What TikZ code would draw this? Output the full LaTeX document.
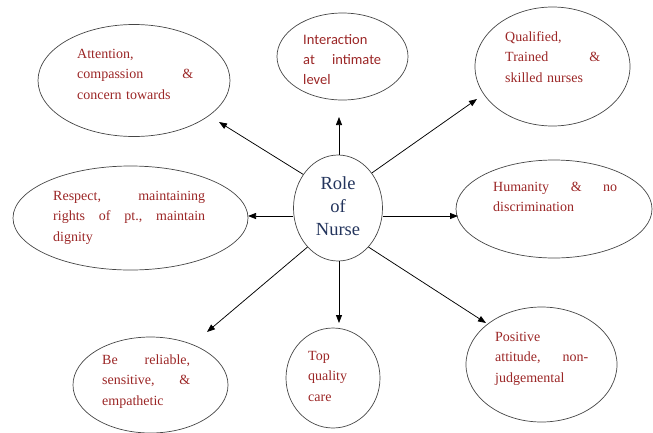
\documentclass[tikz,border=0pt]{standalone}
\usepackage{fontspec}
\setmainfont{Liberation Serif}
\newfontfamily\calfont{Carlito}
\usetikzlibrary{shapes.geometric,arrows.meta}
\definecolor{txtred}{RGB}{155,38,38}
\definecolor{navy}{RGB}{35,52,92}
\definecolor{edge}{RGB}{70,70,70}
\tikzset{
  oval/.style={ellipse,draw=edge,line width=0.7pt,inner sep=0pt},
  lbl/.style={anchor=base west,inner sep=0pt,align=left,text=txtred,
    font=\fontsize{14}{20.5}\selectfont},
  arr/.style={draw=black,line width=0.75pt,-{Triangle[length=8pt,width=6pt]}}
}
\begin{document}
\begin{tikzpicture}[x=1pt,y=-1pt]
\useasboundingbox (0,0) rectangle (653,432);
% ellipses
\node[oval,minimum width=192pt,minimum height=112pt] (att) at (134,80.5) {};
\node[oval,minimum width=131pt,minimum height=87pt] (int) at (342.5,56.5) {};
\node[oval,minimum width=155pt,minimum height=119pt] (qual) at (552.5,66.5) {};
\node[oval,minimum width=235pt,minimum height=104pt] (resp) at (130.5,218) {};
\node[oval,minimum width=89pt,minimum height=106pt] (role) at (338,208) {};
\node[oval,minimum width=196pt,minimum height=98pt] (hum) at (554,209) {};
\node[oval,minimum width=155pt,minimum height=96pt] (rel) at (150.5,385) {};
\node[oval,minimum width=94pt,minimum height=100pt] (top) at (333,378) {};
\node[oval,minimum width=151pt,minimum height=115pt] (pos) at (541.5,364.5) {};
% texts
\node[lbl,text width=116pt] (tatt) at (77,58) {Attention,\\compassion\hfill\&\\concern towards};
\node[lbl,text width=78pt,font=\calfont\fontsize{14.5}{20}\selectfont] (tint) at (303,44) {Interaction\\at\hfill intimate\\level};
\node[lbl,text width=95pt] (tqual) at (505,41) {Qualified,\\Trained\hfill\&\\skilled nurses};
\node[lbl,text width=152pt] (tresp) at (53,200) {Respect,\hfill maintaining\\rights\hfill of\hfill pt.,\hfill maintain\\dignity};
\node[anchor=base,inner sep=0pt,align=center,text=navy,font=\fontsize{18.5}{23}\selectfont] (trole) at (338,235) {Role\\of\\Nurse};
\node[lbl,text width=124pt] (thum) at (493,191) {Humanity\hfill\&\hfill no\\discrimination};
\node[lbl,text width=88pt] (trel) at (102,364) {Be\hfill reliable,\\sensitive,\hfill\&\\empathetic};
\node[lbl,text width=60pt] (ttop) at (308,360) {Top\\quality\\care};
\node[lbl,text width=93pt] (tpos) at (495,341) {Positive\\attitude,\hfill non-\\judgemental};
% arrow tips
\coordinate (pA) at (219,122);
\coordinate (pI) at (339,117);
\coordinate (pQ) at (477,99);
\coordinate (pR) at (248,216);
\coordinate (pH) at (458,216);
\coordinate (pB) at (207,332);
\coordinate (pT) at (339,323);
\coordinate (pP) at (486,323);
% connectors
\draw[arr] (role.136) -- (pA);
\draw[arr] (role.north -| pI) -- (pI);
\draw[arr] (role.46) -- (pQ);
\draw[arr] (role.west |- pR) -- (pR);
\draw[arr] (role.east |- pH) -- (pH);
\draw[arr] (role.232) -- (pB);
\draw[arr] (role.south -| pT) -- (pT);
\draw[arr] (role.308) -- (pP);
\end{tikzpicture}
\end{document}
